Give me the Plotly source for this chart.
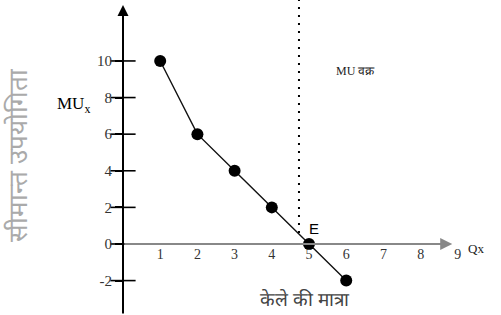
import plotly.graph_objects as go

# Data
qty = [1, 2, 3, 4, 5, 6]
mu = [10, 6, 4, 2, 0, -2]
x_ticks = [1, 2, 3, 4, 5, 6, 7, 8, 9]
x_ticktext = ["1", "2", "3", "4", "5", "6", "7", "8", "9"]
y_ticks = [10, 8, 6, 4, 2, 0, -2]
y_ticktext = ["10", "8", "6", "4", "2", "0", "-2"]
eq_x = 4.73  # dotted vertical line position

XR = [-3.306, 10.16]
YR = [-3.88, 13.33]

fig = go.Figure()

# MU curve
fig.add_trace(go.Scatter(
    x=qty, y=mu, mode="lines+markers",
    line=dict(color="#111", width=1.4),
    marker=dict(color="#000", size=12),
    showlegend=False, hoverinfo="skip"))

# inner halves of y ticks
fig.add_trace(go.Scatter(
    x=[0] * len(y_ticks), y=y_ticks, mode="markers",
    marker=dict(symbol="line-ew", size=18, line=dict(color="#000", width=1.6)),
    showlegend=False, hoverinfo="skip"))

# dotted vertical line
fig.add_shape(type="line", x0=eq_x, x1=eq_x, y0=0.6, y1=YR[1],
              line=dict(color="#000", width=2, dash="2px,6px"), layer="below")

# axes with arrows
fig.add_annotation(x=0, y=13.06, ax=0, ay=YR[0], xref="x", yref="y", axref="x", ayref="y",
                   showarrow=True, arrowhead=2, arrowsize=1.1, arrowwidth=2, arrowcolor="#000", text="")
fig.add_annotation(x=8.85, y=0, ax=0, ay=0, xref="x", yref="y", axref="x", ayref="y",
                   showarrow=True, arrowhead=2, arrowsize=1.1, arrowwidth=2.2, arrowcolor="#888", text="")

serif = "Liberation Serif, DejaVu Serif, serif"

# text labels
fig.add_annotation(x=-1.34, y=7.6, xref="x", yref="y", showarrow=False,
                   text="MU<sub>x</sub>", font=dict(family=serif, size=17, color="#000"))
fig.add_annotation(x=5.13, y=0.87, xref="x", yref="y", showarrow=False,
                   text="E", font=dict(family="Liberation Sans, Arial, sans-serif", size=15, color="#000"))
fig.add_annotation(x=9.5, y=-0.27, xref="x", yref="y", showarrow=False,
                   text="Qx", font=dict(family=serif, size=13, color="#222"))
fig.add_annotation(x=6.24, y=9.45, xref="x", yref="y", showarrow=False,
                   text="MU वक्र", font=dict(family=serif, size=12, color="#222"))
fig.add_annotation(x=4.89, y=-3.0, xref="x", yref="y", showarrow=False,
                   text="केले की मात्रा", font=dict(size=19, color="#444"))
fig.add_annotation(x=-2.85, y=4.86, xref="x", yref="y", showarrow=False, textangle=-90,
                   text="सीमान्त उपयोगिता", font=dict(size=26, color="#aaa"))

fig.update_layout(
    width=501, height=315,
    margin=dict(l=0, r=0, t=0, b=0),
    paper_bgcolor="white", plot_bgcolor="white",
    xaxis=dict(range=XR, showgrid=False, zeroline=False, showline=False,
               anchor="free", position=(315 - 244) / 315, automargin=False,
               tickvals=x_ticks, ticktext=x_ticktext, ticks="",
               tickfont=dict(family=serif, size=14, color="#333")),
    yaxis=dict(range=YR, showgrid=False, zeroline=False, showline=False,
               anchor="free", position=123 / 501, automargin=False,
               tickvals=y_ticks, ticktext=y_ticktext, ticks="outside", ticklen=8,
               tickwidth=1.6, tickcolor="#000",
               tickfont=dict(family=serif, size=15, color="#333")),
)

fig.write_html("out.html", config={"displayModeBar": False},
               post_script="document.body.style.margin='0';document.body.style.overflow='hidden';")
